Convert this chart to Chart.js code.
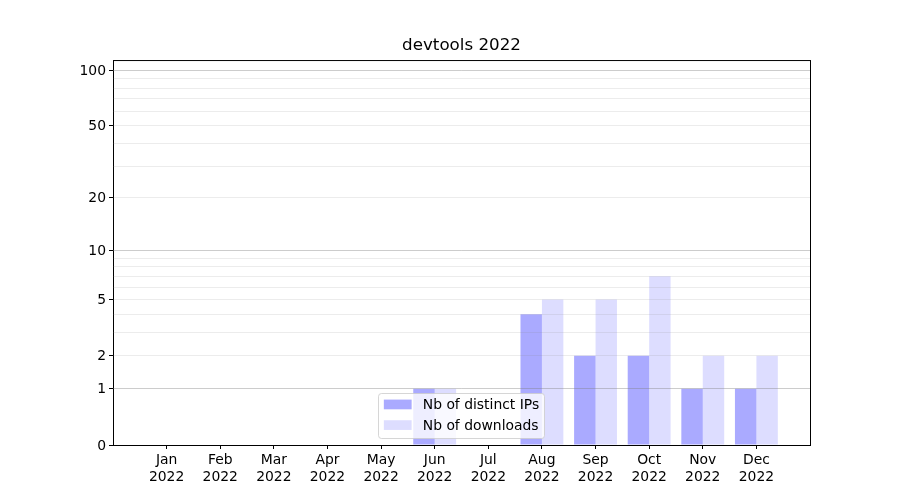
<!DOCTYPE html>
<html>
<head>
<meta charset="utf-8">
<title>devtools 2022</title>
<script src="https://cdn.jsdelivr.net/npm/chart.js@4/dist/chart.umd.min.js"></script>
<style>
  html, body { margin: 0; padding: 0; background: #fff; }
  #wrap { width: 900px; height: 500px; }
</style>
</head>
<body>
<div id="wrap"><canvas id="chart" width="900" height="500"></canvas></div>
<script>
// Monthly counts for 2022
const MONTHS = ['Jan', 'Feb', 'Mar', 'Apr', 'May', 'Jun', 'Jul', 'Aug', 'Sep', 'Oct', 'Nov', 'Dec'];
const YEAR = '2022';
const DISTINCT_IPS = [0, 0, 0, 0, 0, 1, 0, 4, 2, 2, 1, 1];
const DOWNLOADS    = [0, 0, 0, 0, 0, 1, 0, 5, 5, 7, 2, 2];

// y axis: labelled ticks, decade lines and the minor lines between them
const Y_LABELS = [0, 1, 2, 5, 10, 20, 50, 100];
const Y_MAJOR = [1, 10, 100];
const Y_MINOR = [2, 3, 4, 5, 6, 7, 8, 9, 20, 30, 40, 50, 60, 70, 80, 90];
const Y_MAX = 113.7;

const FONT = 'DejaVu Sans';
Chart.defaults.font.family = FONT;
Chart.defaults.font.size = 13.9;
Chart.defaults.color = '#000';

// Scale that places values at log10(1 + v), so zero sits on the baseline
class Log1pScale extends Chart.LinearScale {
  static id = 'log1p';
  static defaults = {};
  determineDataLimits() {
    this.min = this.options.min;
    this.max = this.options.max;
  }
  buildTicks() {
    const values = [0].concat(Y_MAJOR, Y_MINOR).sort((a, b) => a - b);
    return values.map(v => ({ value: v }));
  }
  configure() {
    super.configure();
    this._t0 = Math.log10(1 + this.min);
    this._tr = Math.log10(1 + this.max) - this._t0;
  }
  getPixelForValue(v) {
    return this.getPixelForDecimal((Math.log10(1 + v) - this._t0) / this._tr);
  }
  getValueForPixel(p) {
    return Math.pow(10, this._t0 + this.getDecimalForPixel(p) * this._tr) - 1;
  }
}
Chart.register(Log1pScale);

// Black box around the plotting area
const framePlugin = {
  id: 'frame',
  afterDatasetsDraw(chart) {
    const { ctx, chartArea: a } = chart;
    ctx.save();
    ctx.strokeStyle = '#000';
    ctx.lineWidth = 1;
    ctx.strokeRect(a.left + 0.5, a.top + 0.5, a.right - a.left, a.bottom - a.top);
    ctx.restore();
  }
};

// Legend boxed inside the plot, lower centre
const innerLegend = {
  id: 'innerLegend',
  afterDraw(chart) {
    const { ctx, chartArea: a } = chart;
    const fs = 13.9;
    const pad = 0.4 * fs, handle = 2 * fs, gap = 0.8 * fs, spacing = 0.5 * fs, rowH = 13.7;
    const sets = chart.data.datasets;
    ctx.save();
    ctx.font = fs + 'px "' + FONT + '"';
    const tw = Math.max(...sets.map(d => ctx.measureText(d.label).width));
    const w = 2 * pad + handle + gap + tw;
    const h = 2 * pad + sets.length * rowH + (sets.length - 1) * spacing;
    const x = (a.left + a.right) / 2 - w / 2;
    const y = a.bottom - 7 - h;
    ctx.beginPath();
    ctx.roundRect(Math.round(x) + 0.5, Math.round(y) + 0.5, Math.round(w), Math.round(h), 3);
    ctx.fillStyle = 'rgba(255,255,255,0.8)';
    ctx.fill();
    ctx.strokeStyle = 'rgba(204,204,204,0.8)';
    ctx.lineWidth = 1;
    ctx.stroke();
    ctx.textBaseline = 'middle';
    ctx.textAlign = 'left';
    sets.forEach((d, i) => {
      const cy = y + pad + rowH / 2 + i * (rowH + spacing);
      ctx.fillStyle = d.backgroundColor;
      ctx.fillRect(x + pad, cy - 0.35 * fs - 0.5, handle, 0.7 * fs);
      ctx.fillStyle = '#000';
      ctx.fillText(d.label, x + pad + handle + gap, cy + 0.5);
    });
    ctx.restore();
  }
};

new Chart(document.getElementById('chart'), {
  type: 'bar',
  data: {
    datasets: [
      {
        label: 'Nb of distinct IPs',
        data: DISTINCT_IPS.map((v, i) => ({ x: i, y: v })),
        backgroundColor: 'rgba(0,0,255,0.333)',
        borderWidth: 0
      },
      {
        label: 'Nb of downloads',
        data: DOWNLOADS.map((v, i) => ({ x: i, y: v })),
        backgroundColor: 'rgba(0,0,255,0.133)',
        borderWidth: 0
      }
    ]
  },
  options: {
    responsive: false,
    animation: false,
    categoryPercentage: 0.8,
    barPercentage: 1.0,
    layout: { padding: { left: 0, right: 90, top: 0, bottom: 0 } },
    plugins: {
      legend: { display: false },
      tooltip: { enabled: false },
      title: {
        display: true,
        text: 'devtools ' + YEAR,
        fullSize: false,
        color: '#000',
        font: { family: FONT, size: 16.7, weight: 'normal', lineHeight: 1.2 },
        padding: { top: 36, bottom: 4 }
      }
    },
    scales: {
      x: {
        type: 'linear',
        offset: false,
        min: -1,
        max: 12,
        afterBuildTicks: s => { s.ticks = MONTHS.map((m, i) => ({ value: i })); },
        afterFit: s => { s.height = 55; },
        border: { display: false },
        grid: { offset: false, drawOnChartArea: false, drawTicks: true, tickLength: 4, tickColor: '#000', lineWidth: 1 },
        ticks: {
          autoSkip: false,
          maxRotation: 0,
          padding: 3,
          color: '#000',
          callback: v => [MONTHS[v], YEAR]
        }
      },
      y: {
        type: 'log1p',
        min: 0,
        max: Y_MAX,
        afterFit: s => { s.width = 113; },
        border: { display: false },
        grid: {
          z: 1,
          lineWidth: 1,
          drawTicks: true,
          tickLength: 4,
          color: c => {
            const v = c.tick ? c.tick.value : 0;
            if (v === 0) return 'rgba(0,0,0,0)';
            return Y_MAJOR.includes(v) ? 'rgba(128,128,128,0.4)' : 'rgba(128,128,128,0.15)';
          },
          tickColor: c => (c.tick && Y_LABELS.includes(c.tick.value)) ? '#000' : 'rgba(0,0,0,0)'
        },
        ticks: {
          autoSkip: false,
          padding: 3,
          labelOffset: 1,
          color: '#000',
          callback: v => Y_LABELS.includes(v) ? String(v) : ''
        }
      }
    }
  },
  plugins: [framePlugin, innerLegend]
});
</script>
</body>
</html>
